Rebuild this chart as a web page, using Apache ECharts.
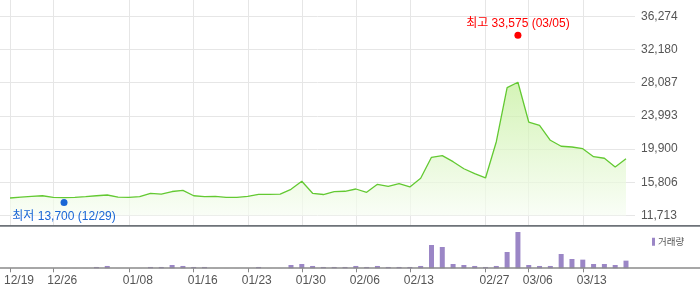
<!DOCTYPE html>
<html>
<head>
<meta charset="utf-8">
<script src="https://cdn.jsdelivr.net/npm/echarts@6/dist/echarts.min.js"></script>
<style>
html,body{margin:0;padding:0;background:#fff;}
#chart{width:700px;height:289px;}
</style>
</head>
<body>
<div id="chart"></div>
<script>
const dates = ['12/19','12/20','12/21','12/22','12/26','12/29','01/02','01/03','01/04','01/05','01/06',
  '01/08','01/09','01/10','01/11','01/12','01/15','01/16','01/17','01/18','01/19','01/22',
  '01/23','01/24','01/25','01/26','01/29','01/30','01/31','02/01','02/02','02/05',
  '02/06','02/07','02/08','02/09','02/12','02/13','02/14','02/15','02/16','02/19','02/20','02/21',
  '02/27','02/28','02/29','03/05','03/06','03/07','03/08','03/11','03/12',
  '03/13','03/14','03/15','03/18','03/19'];
const closePrices = [13870,13990,14080,14150,13960,13910,13960,14030,14150,14240,13990,
  13960,14030,14450,14350,14670,14820,14150,14030,14080,13960,13960,
  14080,14330,14330,14360,14940,15930,14450,14300,14650,14700,
  14980,14570,15560,15310,15630,15230,16300,18890,19090,18350,17480,16870,
  16340,20810,27470,28140,23240,22830,20990,20250,20160,
  19950,18960,18770,17690,18720];
const volumes = [2000,2000,2000,2000,2000,2000,2000,2000,40000,70000,2000,
  2000,2000,40000,40000,100000,70000,40000,40000,2000,2000,2000,
  2000,40000,2000,2000,100000,130000,70000,40000,40000,40000,
  70000,40000,70000,40000,40000,40000,70000,700000,640000,130000,100000,70000,
  40000,70000,490000,1090000,100000,70000,70000,430000,280000,
  260000,130000,130000,100000,230000];
const tickDates = ['12/19','12/26','01/08','01/16','01/23','01/30','02/06','02/13','02/27','03/06','03/13'];
const priceTicks = [11713,15806,19900,23993,28087,32180,36274];
const highDate = '03/05', highValue = 33575;
const lowDate = '12/29', lowValue = 13700;
const volumeName = '거래량';

const fmt = v => v.toLocaleString('en-US');
const isTick = idx => tickDates.indexOf(dates[idx]) >= 0;
const FONT = "'Liberation Sans', 'Noto Sans CJK KR', sans-serif";
const KFONT = "'Noto Sans CJK KR', sans-serif";

const chart = echarts.init(document.getElementById('chart'), null, {renderer:'canvas'});
const pMin = priceTicks[0], pMax = priceTicks[priceTicks.length-1];

chart.setOption({
  animation:false,
  backgroundColor:'#fff',
  grid:[
    {left:0, right:65, top:16.3, height:199.2},
    {left:10, right:74, top:16.3, height:199.2},
    {left:10, right:74, top:0, height:226},
    {left:10, right:74, top:227, height:41.3}
  ],
  legend:{
    data:[volumeName], left:647, top:232, icon:'rect', itemWidth:3, itemHeight:8, itemGap:4,
    selectedMode:false, textStyle:{fontSize:9.5, color:'#555', fontFamily:KFONT, padding:[0,0,0,-2]}
  },
  xAxis:[
    {gridIndex:0, type:'value', min:0, max:1, show:false},
    {gridIndex:1, type:'category', data:dates, boundaryGap:false, show:false},
    {gridIndex:2, type:'category', data:dates, boundaryGap:false,
      axisLine:{show:false}, axisTick:{show:false}, axisLabel:{show:false},
      splitLine:{show:true, interval:isTick, lineStyle:{color:'#e6e6e6', width:1}}},
    {gridIndex:3, type:'category', data:dates, boundaryGap:false,
      axisLine:{show:false},
      axisTick:{show:true, interval:isTick, length:4, lineStyle:{color:'#888'}},
      axisLabel:{show:true, interval:isTick, margin:6, padding:[0,0,0,18],
        fontSize:12, color:'#555', fontFamily:FONT},
      splitLine:{show:false}}
  ],
  yAxis:[
    {gridIndex:0, type:'value', min:0, max:priceTicks.length-1, interval:1, position:'right',
      axisLine:{show:false}, axisTick:{show:false},
      splitLine:{show:true, lineStyle:{color:'#e6e6e6', width:1}},
      axisLabel:{margin:6, fontSize:12, color:'#555', fontFamily:FONT,
        formatter:v => fmt(priceTicks[Math.round(v)])}},
    {gridIndex:1, type:'value', min:pMin, max:pMax, show:false, splitLine:{show:false}},
    {gridIndex:2, type:'value', show:false, splitLine:{show:false}},
    {gridIndex:3, type:'value', min:0, max:1240000, show:false, splitLine:{show:false}}
  ],
  graphic:[
    {type:'line', shape:{x1:0, y1:225.8, x2:700, y2:225.8}, style:{stroke:'#6d7278', lineWidth:1.8}, z:100},
    {type:'line', shape:{x1:0, y1:268, x2:700, y2:268}, style:{stroke:'#8a8a8a', lineWidth:1.5}, z:100}
  ],
  series:[
    {type:'line', xAxisIndex:1, yAxisIndex:1, data:closePrices, symbol:'none', z:2,
      lineStyle:{color:'#63c932', width:1.3},
      areaStyle:{color:new echarts.graphic.LinearGradient(0,0,0,1,[
        {offset:0, color:'#c2ef98'},{offset:1, color:'#f7fdf3'}])}},
    {type:'scatter', xAxisIndex:1, yAxisIndex:1, data:[[dates.indexOf(highDate), highValue]], z:10,
      symbolSize:7, symbolOffset:[0,-3], itemStyle:{color:'#ff0000', opacity:1},
      label:{show:true, position:'top', distance:2, color:'#ff0000', fontSize:12, fontFamily:FONT,
        formatter:'최고 ' + fmt(highValue) + ' (' + highDate + ')'}},
    {type:'scatter', xAxisIndex:1, yAxisIndex:1, data:[[dates.indexOf(lowDate), lowValue]], z:10,
      symbolSize:7, symbolOffset:[0,3], itemStyle:{color:'#1a66d6', opacity:1},
      label:{show:true, position:'bottom', distance:4.5, color:'#1a66d6', fontSize:12, fontFamily:FONT,
        formatter:'최저 ' + fmt(lowValue) + ' (' + lowDate + ')'}},
    {type:'bar', name:volumeName, xAxisIndex:3, yAxisIndex:3, data:volumes, barWidth:5,
      itemStyle:{color:'#9b86c6'}}
  ]
});
</script>
</body>
</html>
